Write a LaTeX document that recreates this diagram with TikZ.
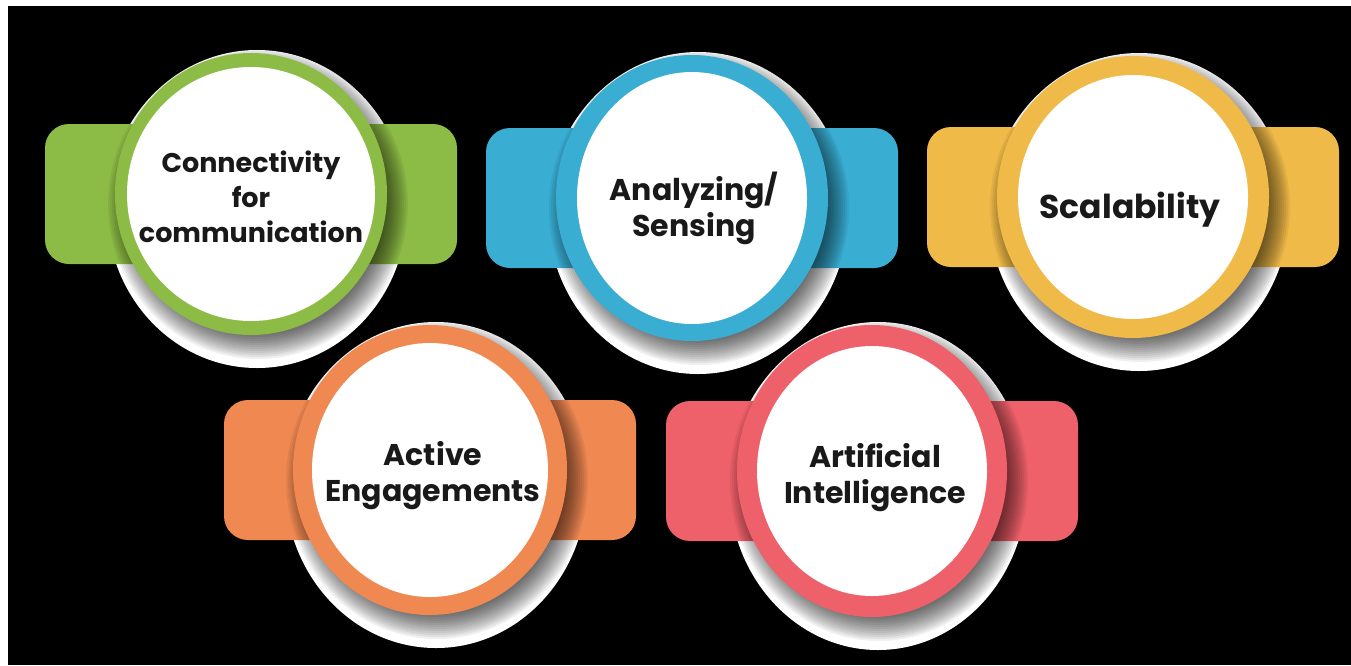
\documentclass[tikz,border=0pt]{standalone}
\usepackage{fontspec}
\setmainfont{Poppins}
\definecolor{cgreen}{RGB}{141,188,70}
\definecolor{cblue}{RGB}{58,173,210}
\definecolor{cyellow}{RGB}{240,186,72}
\definecolor{corange}{RGB}{240,136,82}
\definecolor{cred}{RGB}{238,96,106}
\definecolor{ctext}{RGB}{25,25,25}
\tikzset{
  lbl/.style={text=ctext, align=center, font=\bfseries\fontsize{30}{36}\selectfont, inner sep=0pt},
  lblsmall/.style={lbl, font=\bfseries\fontsize{27}{35}\selectfont},
  lblbig/.style={lbl, font=\bfseries\fontsize{33}{36}\selectfont},
  tabbox/.style={rounded corners=24pt},
}
% #1 cx, #2 cy, #3 rx, #4 ry, #5 inner rx, #6 inner ry, #7 colour, #8 name, #9 text style
\newcommand\Badge[9]{%
  \fill[white] (#1+6,#2+15) ellipse [x radius=#3pt+14pt, y radius=#4pt+18pt];
  \fill[#7, tabbox] (#1-206,#2-70) rectangle (#1+206,#2+70);
  \foreach \k in {0,...,12}{%
    \fill[black, opacity=0.06] (#1+7,#2+10) ellipse [x radius=#3pt+14pt-\k*2pt, y radius=#4pt+14pt-\k*2pt];
  }
  \fill[#7] (#1,#2) ellipse [x radius=#3pt, y radius=#4pt];
  \fill[white] (#1,#2) ellipse [x radius=#5pt, y radius=#6pt];
}
\begin{document}
\begin{tikzpicture}[x=1pt,y=-1pt]
\useasboundingbox (0,0) rectangle (1351,665);
\fill[white] (0,0) rectangle (1351,665);
\fill[black] (8,6) rectangle (1351,665);
\begin{scope}
\clip (8,6) rectangle (1351,665);
\Badge{251}{194}{136}{141}{124}{127}{cgreen}{}{}
\Badge{692}{198}{136}{143}{115}{126}{cblue}{}{}
\Badge{1133}{197}{136}{141}{115}{122}{cyellow}{}{}
\Badge{430}{470}{137}{145}{118}{127}{corange}{}{}
\Badge{872}{471}{135}{146}{115}{125}{cred}{}{}
\end{scope}
\node[lblsmall] (conn) at (251,197) {Connectivity\\for\\communication};
\node[lbl] (anal) at (694,208) {Analyzing/\\Sensing};
\node[lblbig] (scal) at (1130,210) {Scalability};
\node[lbl] (act) at (433,476) {Active\\Engagements};
\node[lbl] (ai) at (875,478) {Artificial\\Intelligence};
\end{tikzpicture}
\end{document}
